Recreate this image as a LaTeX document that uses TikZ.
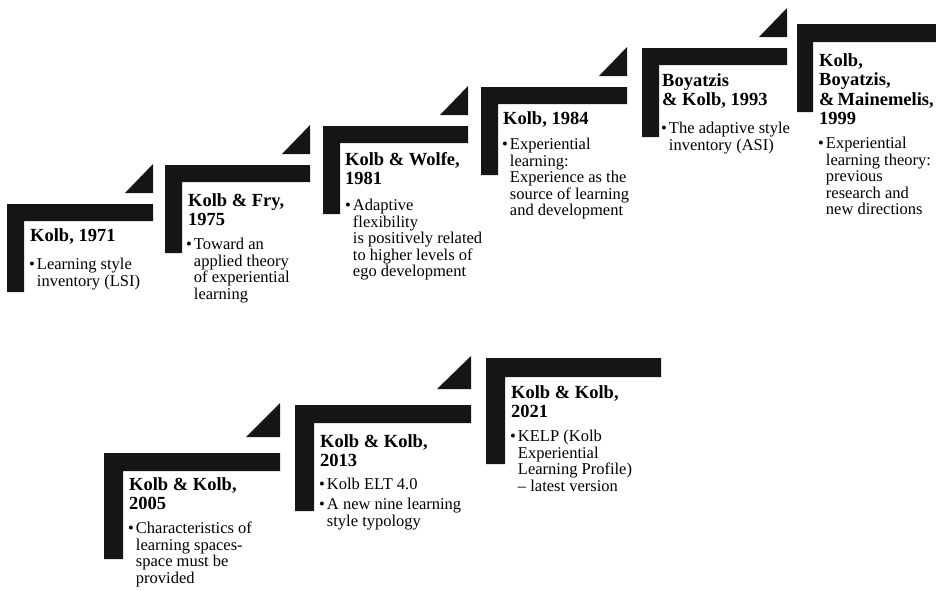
\documentclass[tikz,border=0pt]{standalone}
\usepackage{fontspec}
\setmainfont{Liberation Serif}
\definecolor{stepblack}{HTML}{151515}
\newcommand{\ind}{\hphantom{\textbullet\hspace{2pt}}}
\newcommand{\bul}{\textbullet\hspace{2pt}}

\begin{document}
\begin{tikzpicture}[x=1pt,y=-1pt,
    yeartitle/.style={anchor=north west,inner sep=0pt,align=left,
      font=\fontsize{18.5}{19.5}\selectfont\bfseries},
    bodytext/.style={anchor=north west,inner sep=0pt,align=left,
      font=\fontsize{16.5}{16.5}\selectfont}]
    \useasboundingbox (0,0) rectangle (936,590);

    % top row of steps
    \fill [stepblack] (7,204) -- (153,204) -- (153,221) -- (24,221) -- (24,292) -- (7,292) -- cycle;
    \fill [stepblack] (165,165) -- (310,165) -- (310,182) -- (182,182) -- (182,253) -- (165,253) -- cycle;
    \fill [stepblack] (323,126) -- (468,126) -- (468,143) -- (340,143) -- (340,214) -- (323,214) -- cycle;
    \fill [stepblack] (481,87) -- (627,87) -- (627,104) -- (498,104) -- (498,175) -- (481,175) -- cycle;
    \fill [stepblack] (642,48) -- (787,48) -- (787,65) -- (659,65) -- (659,137) -- (642,137) -- cycle;
    \fill [stepblack] (797,24) -- (936,24) -- (936,42) -- (813,42) -- (813,112) -- (797,112) -- cycle;
    \fill [stepblack] (125,193) -- (153,193) -- (153,164) -- cycle;
    \fill [stepblack] (282,154) -- (310,154) -- (310,125) -- cycle;
    \fill [stepblack] (440,115) -- (468,115) -- (468,86) -- cycle;
    \fill [stepblack] (599,76) -- (627,76) -- (627,47) -- cycle;
    \fill [stepblack] (759,37) -- (787,37) -- (787,8) -- cycle;

    % bottom row of steps
    \fill [stepblack] (104,453) -- (280,453) -- (280,471) -- (123,471) -- (123,559) -- (104,559) -- cycle;
    \fill [stepblack] (295,405) -- (471,405) -- (471,423) -- (314,423) -- (314,511) -- (295,511) -- cycle;
    \fill [stepblack] (486,358) -- (661,358) -- (661,377) -- (505,377) -- (505,464) -- (486,464) -- cycle;
    \fill [stepblack] (246,437) -- (280,437) -- (280,403) -- cycle;
    \fill [stepblack] (437,389) -- (471,389) -- (471,356) -- cycle;

    \node [yeartitle] (K71)  at (30,228)  {Kolb, 1971};
    \node [yeartitle] (KF75) at (188,193) {Kolb \& Fry,\\1975};
    \node [yeartitle] (KW81) at (345,152) {Kolb \& Wolfe,\\1981};
    \node [yeartitle] (K84)  at (503,111) {Kolb, 1984};
    \node [yeartitle] (BK93) at (662,73)  {Boyatzis\\\& Kolb, 1993};
    \node [yeartitle] (KBM99) at (819,53) {Kolb,\\Boyatzis,\\\&\,Mainemelis,\\1999};
    \node [yeartitle] (KK05) at (129,477) {Kolb \& Kolb,\\2005};
    \node [yeartitle] (KK13) at (320,434) {Kolb \& Kolb,\\2013};
    \node [yeartitle] (KK21) at (511,385) {Kolb \& Kolb,\\2021};

    \node [bodytext] (LSI) at (29,258)  {\bul Learning style\\\ind inventory (LSI)};
    \node [bodytext] (APT) at (186,238) {\bul Toward an\\\ind applied theory\\\ind of experiential\\\ind learning};
    \node [bodytext] (ADF) at (345,199) {\bul Adaptive\\\ind flexibility\\\ind is positively related\\\ind to higher levels of\\\ind ego development};
    \node [bodytext] (EXL) at (502,138) {\bul Experiential\\\ind learning:\\\ind Experience as the\\\ind source of learning\\\ind and development};
    \node [bodytext] (ASI) at (661,122) {\bul The adaptive style\\\ind inventory (ASI)};
    \node [bodytext] (ELF) at (818,137) {\bul Experiential\\\ind learning theory:\\\ind previous\\\ind research and\\\ind new directions};
    \node [bodytext] (LSP) at (128,522) {\bul Characteristics of\\\ind learning spaces-\\\ind space must be\\\ind provided};
    \node [bodytext] (ELT) at (319,478) {\bul Kolb ELT 4.0\\[3.5pt]\bul A new nine learning\\\ind style typology};
    \node [bodytext] (KLP) at (510,430) {\bul KELP (Kolb\\\ind Experiential\\\ind Learning Profile)\\\ind -- latest version};
\end{tikzpicture}
\end{document}
